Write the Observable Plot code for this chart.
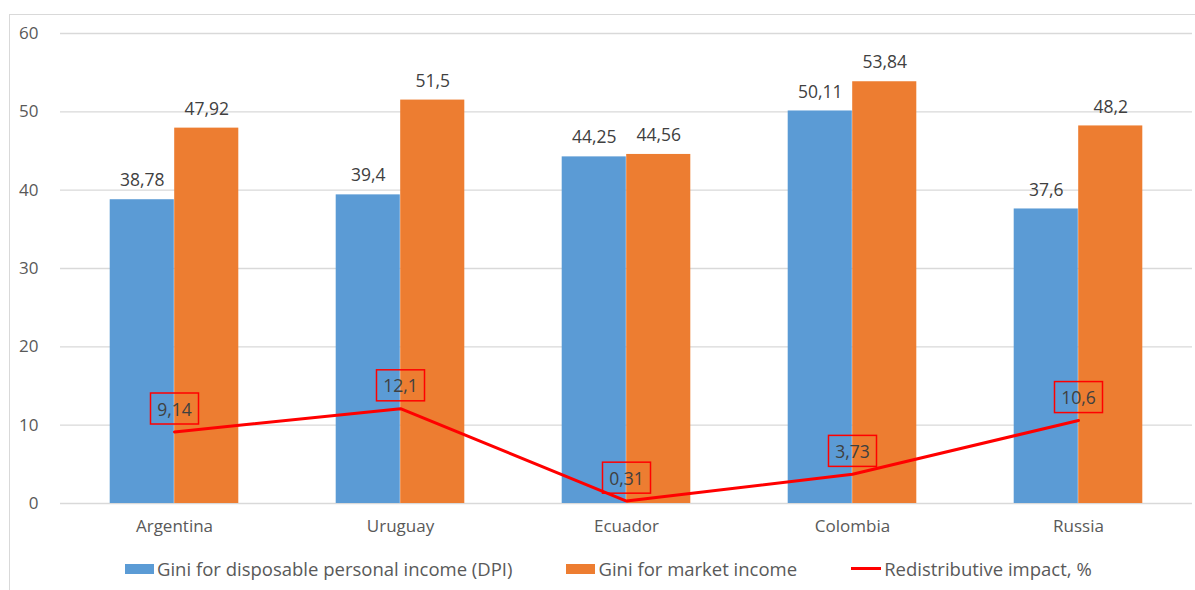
<!DOCTYPE html>
<html>
<head>
<meta charset="utf-8">
<script src="https://cdn.jsdelivr.net/npm/d3@7"></script>
<script src="https://cdn.jsdelivr.net/npm/@observablehq/plot@0.6"></script>
<style>
  html, body { margin: 0; padding: 0; background: #fff; overflow: hidden; }
  body { font-family: "Open Sans", sans-serif; width: 1195px; height: 590px; position: relative; }
  #frame { position: absolute; left: 9px; top: 14px; width: 1200px; height: 600px; border: 1px solid #d9d9d9; }
  #chart { position: absolute; left: 0; top: 0; }
  #legend { position: absolute; left: 125px; top: 556px; display: flex; gap: 54px; align-items: center; font-size: 18.5px; color: #595959; white-space: nowrap; }
  .item { display: flex; align-items: center; gap: 3px; }
  .sw { display: inline-block; width: 29px; height: 10px; }
  .ln { display: inline-block; width: 30px; height: 3px; background: #ff0000; }
</style>
</head>
<body>
<div id="frame"><div id="chart"></div></div>
<div id="legend"></div>
<script>
const countries = ["Argentina", "Uruguay", "Ecuador", "Colombia", "Russia"];
const giniDPI = [38.78, 39.4, 44.25, 50.11, 37.6];
const giniMarket = [47.92, 51.5, 44.56, 53.84, 48.2];
const impact = [9.14, 12.1, 0.31, 3.73, 10.6];
const yTicks = [0, 10, 20, 30, 40, 50, 60];
const seriesNames = ["Gini for disposable personal income (DPI)", "Gini for market income", "Redistributive impact, %"];

const rows = countries.map((c, i) => ({country: c, dpi: giniDPI[i], market: giniMarket[i], impact: impact[i]}));
const fmt = v => String(v).replace(".", ",");

const W = 1185, ML = 50, MR = 3;
const bw = (W - ML - MR) / countries.length;
const barW = 64.5;

const plot = Plot.plot({
  width: W,
  height: 528,
  marginLeft: ML,
  marginRight: MR,
  marginTop: 18,
  marginBottom: 40,
  style: {fontFamily: "'Open Sans', sans-serif", background: "transparent", overflow: "visible"},
  x: {type: "band", domain: countries, padding: 0},
  y: {domain: [0, 60]},
  marks: [
    Plot.ruleY(yTicks, {stroke: "#d9d9d9", strokeWidth: 1.3}),
    Plot.barY(rows, {x: "country", y: "dpi", fill: "#5b9bd5", insetLeft: bw / 2 - barW, insetRight: bw / 2}),
    Plot.barY(rows, {x: "country", y: "market", fill: "#ed7d31", insetLeft: bw / 2, insetRight: bw / 2 - barW}),
    Plot.text(rows, {x: "country", y: "dpi", text: d => fmt(d.dpi), dx: -barW / 2, dy: -19, fill: "#404040", fontSize: 17.5}),
    Plot.text(rows, {x: "country", y: "market", text: d => fmt(d.market), dx: barW / 2, dy: -19, fill: "#404040", fontSize: 17.5}),
    Plot.lineY(rows, {x: "country", y: "impact", stroke: "#ff0000", strokeWidth: 3}),
    Plot.text(rows, {x: "country", y: "impact", text: d => fmt(d.impact), dy: -22, fill: "#404040", fontSize: 17.5}),
    Plot.axisY({ticks: yTicks, tickSize: 0, tickPadding: 22, fontSize: 17, color: "#595959", label: null}),
    Plot.axisX({tickSize: 0, tickPadding: 16, fontSize: 17, color: "#595959", label: null})
  ]
});
document.getElementById("chart").appendChild(plot);

// draw red boxes around the line's data labels (third text mark)
const textGroups = plot.querySelectorAll('g[aria-label="text"]');
const impactGroup = textGroups[2];
if (impactGroup) {
  impactGroup.querySelectorAll("text").forEach(t => {
    const b = t.getBBox();
    const r = document.createElementNS("http://www.w3.org/2000/svg", "rect");
    const w = 48, h = 31;
    r.setAttribute("x", b.x + b.width / 2 - w / 2);
    r.setAttribute("y", b.y + b.height / 2 - h / 2);
    r.setAttribute("width", w);
    r.setAttribute("height", h);
    r.setAttribute("fill", "none");
    r.setAttribute("stroke", "#ff0000");
    r.setAttribute("stroke-width", 1.5);
    const tr = t.getAttribute("transform");
    if (tr) r.setAttribute("transform", tr);
    t.parentNode.insertBefore(r, t);
  });
}

const legend = document.getElementById("legend");
const swatches = ['<span class="sw" style="background:#5b9bd5"></span>', '<span class="sw" style="background:#ed7d31"></span>', '<span class="ln"></span>'];
seriesNames.forEach((name, i) => {
  const d = document.createElement("div");
  d.className = "item";
  d.innerHTML = swatches[i] + '<span>' + name + '</span>';
  legend.appendChild(d);
});
</script>
</body>
</html>
